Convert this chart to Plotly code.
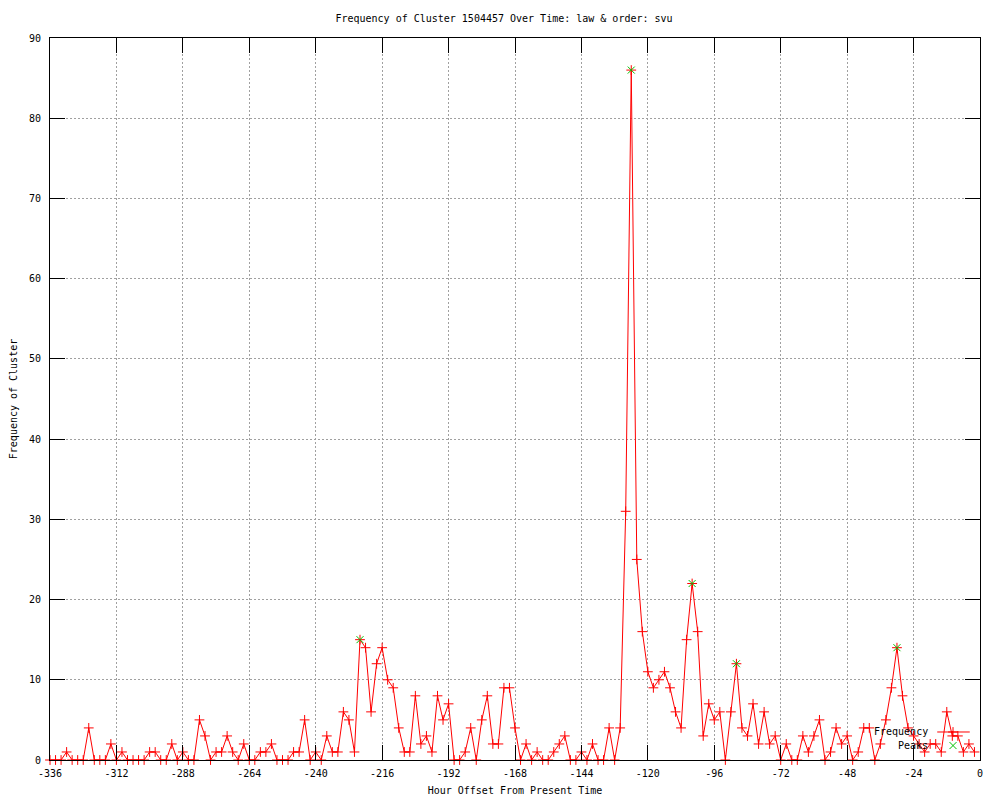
import plotly.graph_objects as go

# ---- data ----
hours = list(range(-336, 0, 2))
freq = [
    0, 0, 0, 1, 0, 0, 0, 4, 0, 0,        # -336 .. -318
    0, 2, 0, 1, 0, 0, 0, 0, 1, 1,        # -316 .. -298
    0, 0, 2, 0, 1, 0, 0, 5, 3, 0,        # -296 .. -278
    1, 1, 3, 1, 0, 2, 0, 0, 1, 1,        # -276 .. -258
    2, 0, 0, 0, 1, 1, 5, 0, 1, 0,        # -256 .. -238
    3, 1, 1, 6, 5, 1, 15, 14, 6, 12,     # -236 .. -218
    14, 10, 9, 4, 1, 1, 8, 2, 3, 1,      # -216 .. -198
    8, 5, 7, 0, 0, 1, 4, 0, 5, 8,        # -196 .. -178
    2, 2, 9, 9, 4, 0, 2, 0, 1, 0,        # -176 .. -158
    0, 1, 2, 3, 0, 0, 1, 0, 2, 0,        # -156 .. -138
    0, 4, 0, 4, 31, 86, 25, 16, 11, 9,   # -136 .. -118
    10, 11, 9, 6, 4, 15, 22, 16, 3, 7,   # -116 .. -98
    5, 6, 0, 6, 12, 4, 3, 7, 2, 6,       # -96 .. -78
    2, 3, 0, 2, 0, 0, 3, 1, 3, 5,        # -76 .. -58
    0, 1, 4, 2, 3, 0, 1, 4, 4, 0,        # -56 .. -38
    2, 5, 9, 14, 8, 4, 3, 2, 1, 2,       # -36 .. -18
    2, 1, 6, 3, 3, 1, 2, 1,              # -16 .. -2
]
peak_hours = [-224, -126, -104, -88, -30]
peak_vals = [freq[hours.index(h)] for h in peak_hours]

x_ticks = [-336, -312, -288, -264, -240, -216, -192, -168, -144, -120, -96, -72, -48, -24, 0]
y_ticks = [0, 10, 20, 30, 40, 50, 60, 70, 80, 90]

title_text = "Frequency of Cluster 1504457 Over Time: law & order: svu"
x_label = "Hour Offset From Present Time"
y_label = "Frequency of Cluster"
legend_labels = ["Frequency", "Peaks"]

RED = "#ff0000"
GREEN = "#00c000"
FONT = "DejaVu Sans Mono"

# page body has an 8px margin, so the figure is sized to fit the 1000x800 window
W, H = 992, 792

fig = go.Figure()

fig.add_trace(go.Scatter(
    x=hours, y=freq, mode="lines+markers", name=legend_labels[0],
    line=dict(color=RED, width=1),
    marker=dict(symbol="cross-thin", size=7, line=dict(color=RED, width=1)),
    showlegend=False, cliponaxis=False,
))
fig.add_trace(go.Scatter(
    x=peak_hours, y=peak_vals, mode="markers", name=legend_labels[1],
    marker=dict(symbol="x-thin", size=7, line=dict(color=GREEN, width=1)),
    showlegend=False,
))

# ---- gnuplot-style key (bottom right, text right-justified, sample on the right) ----
fig.add_shape(type="line", xref="x2", yref="y2", x0=0.954, x1=0.989, y0=0.0388, y1=0.0388,
              line=dict(color=RED, width=1))
fig.add_trace(go.Scatter(
    x=[0.971], y=[0.0388], xaxis="x2", yaxis="y2", mode="markers",
    marker=dict(symbol="cross-thin", size=7, line=dict(color=RED, width=1)),
    showlegend=False, hoverinfo="skip",
))
fig.add_trace(go.Scatter(
    x=[0.971], y=[0.020], xaxis="x2", yaxis="y2", mode="markers",
    marker=dict(symbol="x-thin", size=7, line=dict(color=GREEN, width=1)),
    showlegend=False, hoverinfo="skip",
))
fig.add_annotation(x=0.946, y=0.0388, xref="x2", yref="y2", text=legend_labels[0],
                   showarrow=False, xanchor="right", yanchor="middle",
                   font=dict(family=FONT, size=10, color="black"))
fig.add_annotation(x=0.946, y=0.020, xref="x2", yref="y2", text=legend_labels[1],
                   showarrow=False, xanchor="right", yanchor="middle",
                   font=dict(family=FONT, size=10, color="black"))

axis_common = dict(
    showline=True, linecolor="black", linewidth=1, mirror="ticks",
    ticks="inside", ticklen=15, tickcolor="black", tickwidth=1,
    showgrid=True, gridcolor="#a0a0a0", gridwidth=1, griddash="2px,2px",
    zeroline=False,
    tickfont=dict(family=FONT, size=10, color="black"),
)

fig.update_layout(
    width=W, height=H,
    paper_bgcolor="white", plot_bgcolor="white",
    margin=dict(l=42, r=20, t=30, b=40, autoexpand=False),
    title=dict(text=title_text, x=0.5, xanchor="center", y=1 - 10 / H, yanchor="middle",
               yref="container", font=dict(family=FONT, size=10, color="black")),
    xaxis=dict(range=[-336, 0], tickvals=x_ticks, ticktext=[str(v) for v in x_ticks],
               title=dict(text=x_label, standoff=8, font=dict(family=FONT, size=10, color="black")),
               ticklabelstandoff=4, **axis_common),
    yaxis=dict(range=[0, 90], tickvals=y_ticks, ticktext=[str(v) for v in y_ticks],
               title=dict(text=y_label, standoff=14, font=dict(family=FONT, size=10, color="black")),
               ticklabelstandoff=6, **axis_common),
    xaxis2=dict(range=[0, 1], overlaying="x", visible=False, anchor="y2", fixedrange=True),
    yaxis2=dict(range=[0, 1], overlaying="y", visible=False, anchor="x2", fixedrange=True),
    showlegend=False,
)

fig.write_html("out.html")
